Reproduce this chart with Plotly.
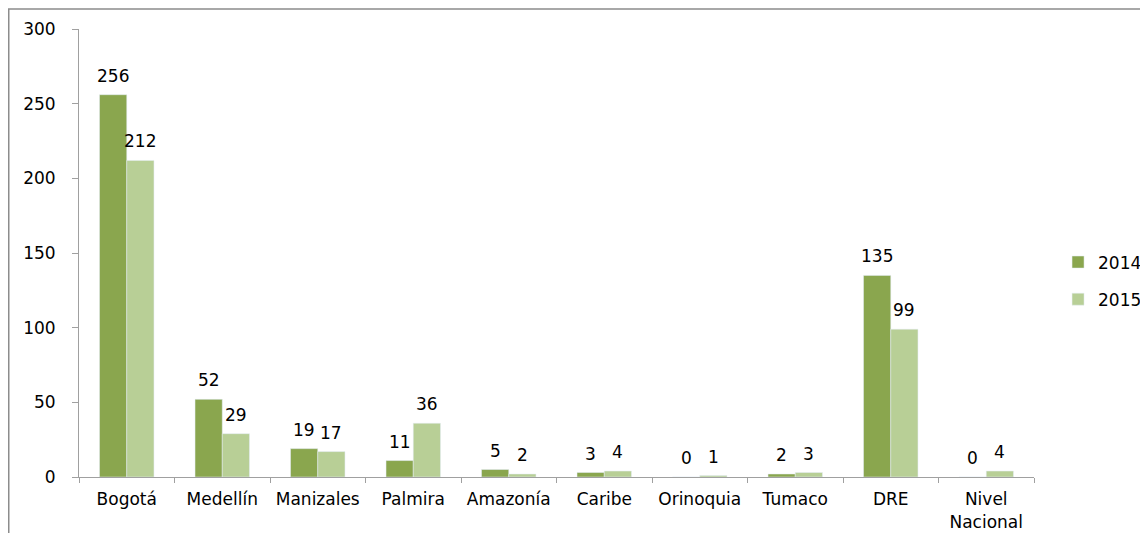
import plotly.graph_objects as go

categories = ["Bogotá", "Medellín", "Manizales", "Palmira", "Amazonía", "Caribe",
              "Orinoquia", "Tumaco", "DRE", "Nivel<br>Nacional"]
values_2014 = [256, 52, 19, 11, 5, 3, 0, 2, 135, 0]
values_2015 = [212, 29, 17, 36, 2, 4, 1, 3, 99, 4]
y_ticks = [0, 50, 100, 150, 200, 250, 300]

FONT = "DejaVu Sans"
FS = 17
W, H = 1132, 525
L, R, T, B = 71, 106, 21, 56
BARGAP = 0.43

fig = go.Figure()
fig.add_trace(go.Bar(name="2014", x=categories, y=values_2014, marker_color="#8aa64e",
                     legendgroup="a"))
fig.add_trace(go.Bar(name="2015", x=categories, y=values_2015, marker_color="#b8cf96",
                     legendgroup="b"))

# value labels above bars, offset to each bar of the group
plot_w = W - L - R
plot_h = H - T - B
bar_w = plot_w / len(categories) * (1 - BARGAP) / 2
for vals, sign in ((values_2014, -1), (values_2015, 1)):
    for c, v in zip(categories, vals):
        fig.add_annotation(x=c, y=v, text=str(v), showarrow=False,
                           xanchor="center", yanchor="bottom",
                           xshift=sign * bar_w / 2, yshift=7,
                           font=dict(size=FS, color="#000000", family=FONT))

fig.update_layout(
    width=W, height=H,
    margin=dict(l=L, r=R, t=T, b=B, autoexpand=False),
    paper_bgcolor="white", plot_bgcolor="white",
    barmode="group", bargap=BARGAP, bargroupgap=0,
    font=dict(family=FONT, size=FS, color="#000000"),
    showlegend=True,
    legend=dict(xref="container", yref="container", x=0.9276, y=0.48,
                xanchor="left", yanchor="middle",
                font=dict(size=FS), tracegroupgap=12, itemwidth=30),
    xaxis=dict(showline=True, linecolor="#a0a0a0", linewidth=1, automargin=False,
               ticks="outside", tickson="boundaries", ticklen=5, tickcolor="#a0a0a0",
               showgrid=False, tickfont=dict(size=FS), ticklabelstandoff=7),
    yaxis=dict(range=[0, 300], tickvals=y_ticks, showline=True, linecolor="#a0a0a0",
               linewidth=1, ticks="outside", ticklen=6, tickcolor="#a0a0a0", automargin=False,
               showgrid=False, zeroline=False, tickfont=dict(size=FS),
               ticklabelstandoff=13),
    shapes=[dict(type="rect", xref="paper", yref="paper",
                 x0=-(L - 0.75) / plot_w, x1=1.3, y0=-0.3, y1=(plot_h + T - 1) / plot_h,
                 line=dict(color="#8c8c8c", width=1.5), fillcolor="rgba(0,0,0,0)",
                 layer="below")],
)
fig.write_html("out.html")
